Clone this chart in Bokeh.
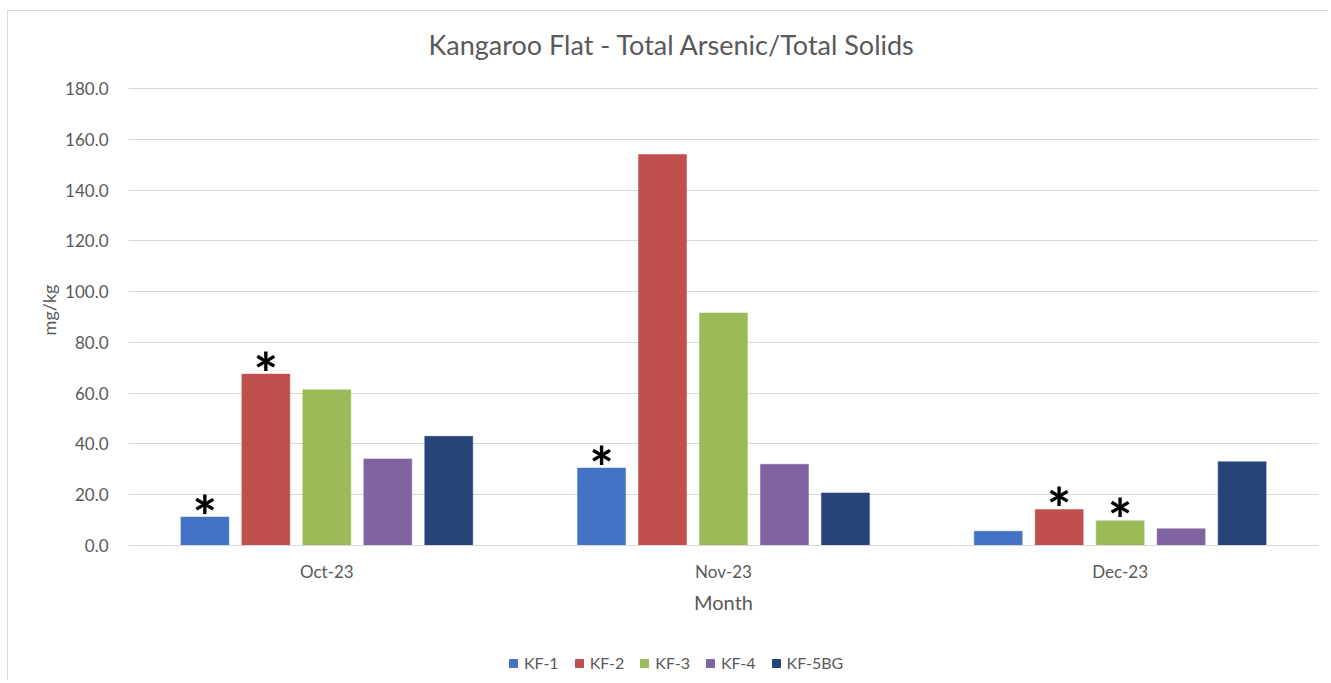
from bokeh.plotting import figure
from bokeh.layouts import column
from bokeh.models import (ColumnDataSource, FactorRange, Legend, LegendItem,
                          NumeralTickFormatter, FixedTicker, Range1d)
from bokeh.transform import dodge
from bokeh.core.properties import value
from bokeh.embed import file_html
from bokeh.resources import INLINE

months = ["Oct-23", "Nov-23", "Dec-23"]
series = ["KF-1", "KF-2", "KF-3", "KF-4", "KF-5BG"]
kf1 = [11.2, 30.5, 5.6]
kf2 = [67.5, 154.0, 14.2]
kf3 = [61.3, 91.6, 9.7]
kf4 = [34.1, 32.0, 6.6]
kf5bg = [43.0, 20.7, 33.0]
colors = ["#4472C4", "#C0504D", "#9BBB59", "#8064A2", "#264478"]
y_ticks = [0, 20, 40, 60, 80, 100, 120, 140, 160, 180]
# asterisk flags (month, series)
star_months = ["Oct-23", "Oct-23", "Nov-23", "Dec-23", "Dec-23"]
star_series = ["KF-1", "KF-2", "KF-1", "KF-2", "KF-3"]

FONT = "Lato"
GREY = "#595959"

data = {"month": months, "KF-1": kf1, "KF-2": kf2, "KF-3": kf3,
        "KF-4": kf4, "KF-5BG": kf5bg}
src = ColumnDataSource(data)

# top of range a little above 180 so the title sits close like the original
p = figure(x_range=FactorRange(*months, range_padding=0),
           y_range=Range1d(0, 185.5),
           width=1320, height=629, output_backend="svg",
           toolbar_location=None, tools="",
           min_border_left=120, min_border_right=10,
           min_border_top=63, min_border_bottom=95)

p.title.text = "Kangaroo Flat - Total Arsenic/Total Solids"
p.title.align = "left"
p.title.offset = 300
p.title.text_font = FONT
p.title.text_font_size = "27px"
p.title.text_font_style = "normal"
p.title.text_color = GREY
p.title.standoff = 28

step = 0.1537
bw = 0.121
offsets = [(i - 2) * step for i in range(5)]
for s, c, off in zip(series, colors, offsets):
    p.vbar(x=dodge("month", off, range=p.x_range), top=s, width=bw,
           source=src, fill_color=c, line_color=c, line_width=0.5)

# asterisks above flagged bars
vals = {"KF-1": kf1, "KF-2": kf2, "KF-3": kf3, "KF-4": kf4, "KF-5BG": kf5bg}
for m, s in zip(star_months, star_series):
    one = ColumnDataSource({"month": [m], "y": [vals[s][months.index(m)]], "t": ["*"]})
    p.text(x=dodge("month", offsets[series.index(s)], range=p.x_range), y="y",
           text="t", source=one, y_offset=-2, text_align="center",
           text_baseline="alphabetic", text_font=value(FONT),
           text_font_size="58px", text_font_style="bold", text_color="black")

# axes
p.yaxis.ticker = FixedTicker(ticks=y_ticks)
p.yaxis.formatter = NumeralTickFormatter(format="0.0")
p.yaxis.axis_label = "mg/kg"
p.yaxis.axis_label_text_font = FONT
p.yaxis.axis_label_text_font_size = "18px"
p.yaxis.axis_label_text_font_style = "normal"
p.yaxis.axis_label_text_color = GREY
p.yaxis.axis_label_standoff = 2
p.yaxis.major_label_text_font = FONT
p.yaxis.major_label_text_font_size = "17px"
p.yaxis.major_label_text_color = GREY
p.yaxis.major_label_standoff = 14
p.yaxis.axis_line_color = None
p.yaxis.major_tick_line_color = None
p.yaxis.minor_tick_line_color = None

p.xaxis.axis_label = "Month"
p.xaxis.axis_label_text_font = FONT
p.xaxis.axis_label_text_font_size = "20px"
p.xaxis.axis_label_text_font_style = "normal"
p.xaxis.axis_label_text_color = GREY
p.xaxis.axis_label_standoff = 5
p.xaxis.major_label_text_font = FONT
p.xaxis.major_label_text_font_size = "17px"
p.xaxis.major_label_text_color = GREY
p.xaxis.major_label_standoff = 9
p.xaxis.axis_line_color = "#d9d9d9"
p.xaxis.major_tick_line_color = None
p.xaxis.minor_tick_line_color = None

p.xgrid.grid_line_color = None
p.ygrid.grid_line_color = "#d9d9d9"
p.ygrid.ticker = FixedTicker(ticks=y_ticks)
p.outline_line_color = None

# legend strip below the chart; swatch renderers sit outside the visible range
lp = figure(x_range=Range1d(0, 1), y_range=Range1d(0, 1), width=1320, height=40,
            output_backend="svg", toolbar_location=None, tools="",
            min_border=0, outline_line_color=None)
lp.axis.visible = False
lp.grid.visible = False
swatch = ColumnDataSource({"x": [-10.0], "top": [-10.0]})
items = []
for s, c in zip(series, colors):
    r = lp.vbar(x="x", top="top", bottom=-11.0, width=0.1, source=swatch,
                fill_color=c, line_color=c)
    items.append(LegendItem(label=s, renderers=[r]))
legend = Legend(items=items, orientation="horizontal", location=(380, 8),
                label_text_font=FONT, label_text_font_size="16px",
                label_text_color=GREY, glyph_width=10, glyph_height=10,
                spacing=15, label_standoff=6, border_line_color=None,
                background_fill_alpha=0, margin=0, padding=4)
lp.add_layout(legend, "center")

layout = column(p, lp, spacing=0, margin=(10, 0, 0, 7),
                styles={"border-top": "1px solid #d9d9d9",
                        "border-left": "1px solid #d9d9d9"})
open("out.html", "w").write(file_html(layout, INLINE))
